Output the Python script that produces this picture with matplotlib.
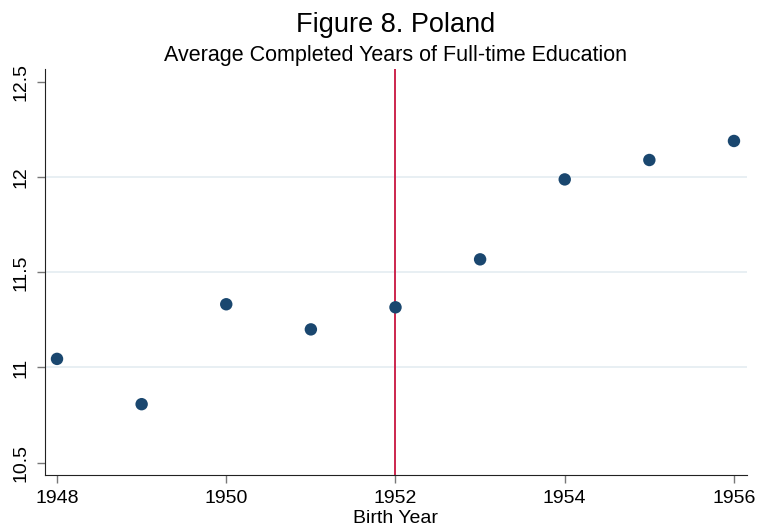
import numpy as np
import matplotlib
matplotlib.use("Agg")
import matplotlib.pyplot as plt

# values
birth_year = [1948, 1949, 1950, 1951, 1952, 1953, 1954, 1955, 1956]
avg_years = [11.045, 10.807, 11.332, 11.20, 11.316, 11.568, 11.988, 12.09, 12.19]
cutoff_year = 1952
x_ticks = [1948, 1950, 1952, 1954, 1956]
y_ticks = [10.5, 11, 11.5, 12, 12.5]
y_tick_labels = ["10.5", "11", "11.5", "12", "12.5"]

plt.rcParams["font.family"] = ["Liberation Sans", "DejaVu Sans"]

fig = plt.figure(figsize=(7.6, 5.31), dpi=100)
ax = fig.add_axes([0.0592, 0.1055, 0.9237, 0.7645])

# light grid lines (not at the axis ends)
for g in [11, 11.5, 12]:
    ax.axhline(g, color="#e6eef2", lw=1.3, zorder=0)

ax.axvline(cutoff_year, color="#c8153f", lw=1.3, zorder=2)
ax.scatter(birth_year, avg_years, s=80, color="#1a476f", edgecolors="none", zorder=3)

ax.set_xlim(1947.858, 1956.154)
ax.set_ylim(10.435, 12.568)
ax.set_xticks(x_ticks)
ax.set_xticklabels([str(t) for t in x_ticks], fontsize=14)
ax.set_yticks(y_ticks)
ax.set_yticklabels(y_tick_labels, fontsize=14, rotation=90, va="center")

ax.spines["top"].set_visible(False)
ax.spines["right"].set_visible(False)
ax.spines["left"].set_color("#222222")
ax.spines["bottom"].set_color("#222222")
ax.tick_params(axis="both", length=6, width=1, color="#777777", pad=5)

ax.set_xlabel("Birth Year", fontsize=14, labelpad=2)

fig.text(0.521, 1 - 31.5 / 531, "Figure 8. Poland", fontsize=19.5, ha="center", va="baseline")
fig.text(0.521, 1 - 61 / 531, "Average Completed Years of Full-time Education",
         fontsize=15.5, ha="center", va="baseline")

fig.savefig("out.png", dpi=100)
